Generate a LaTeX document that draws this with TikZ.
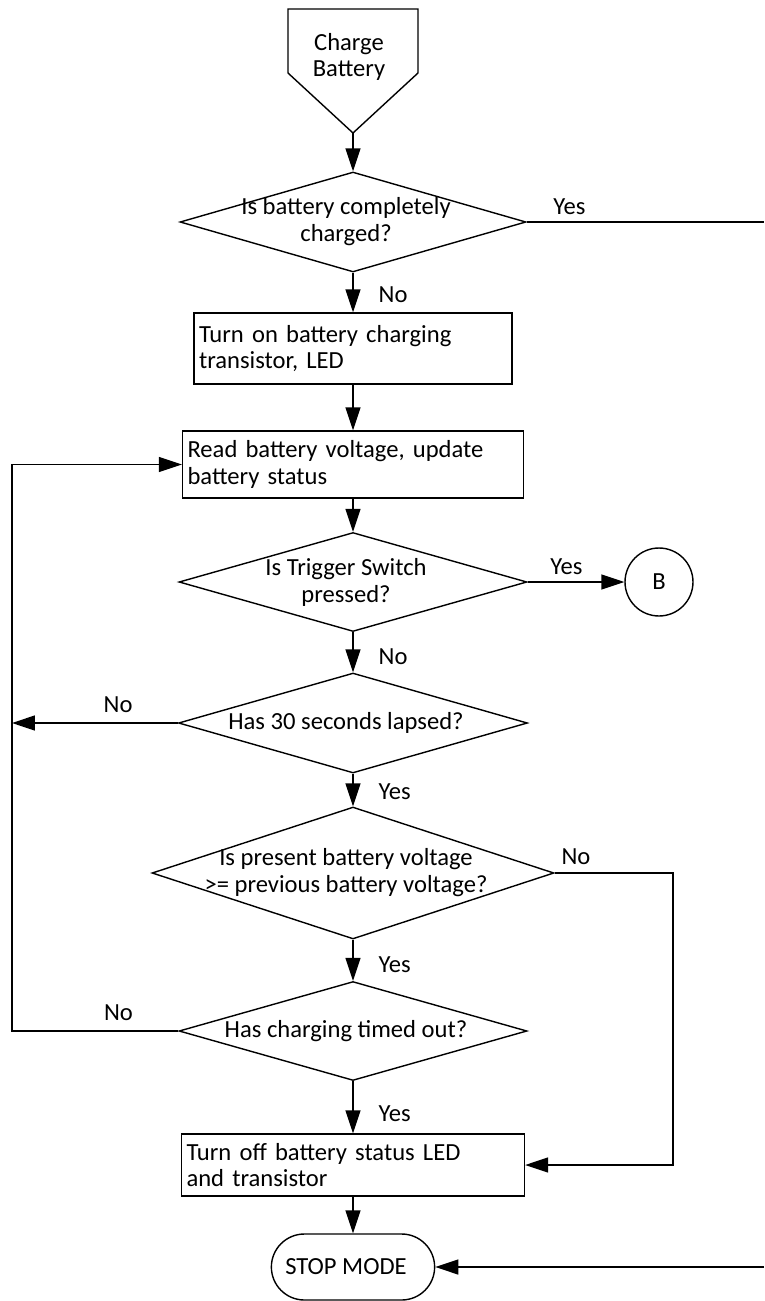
\documentclass[tikz,border=0pt]{standalone}
\usepackage{fontspec}
\setmainfont{Carlito}
\usepackage{tikz}
\usetikzlibrary{arrows.meta,shapes.geometric,shapes.misc}

\begin{document}
\begin{tikzpicture}[x=0.02cm,y=-0.02cm,line width=0.8pt,
    font=\fontsize{14}{15.3}\selectfont,
    flow/.style={-{Triangle[length=0.46cm,width=0.3cm]}},
    decision/.style={draw,shape=diamond,inner sep=0pt},
    dtext/.style={align=center,inner sep=0pt,xshift=-0.14cm},
    process/.style={draw,rectangle,align=left,inner xsep=0.1cm,inner ysep=0pt},
    lbl/.style={inner sep=0pt},
    downlbl/.style={lbl,right,xshift=0.5cm}]
  \useasboundingbox (0,0) rectangle (764,1301);
  \coordinate (lbus) at (12,0);
  \coordinate (rbus) at (673,0);
  \coordinate (rim) at (764,0);

  \draw (288,9) -- (418,9) -- (418,73) -- (353,133) -- (288,73) -- cycle;
  \node[align=center,inner sep=0pt] (start) at (349,57) {Charge\\Battery};
  \coordinate (startpt) at (353,133);

  \node[decision,minimum width=6.92cm,minimum height=2cm] (chk) at (353,222) {};
  \node[dtext] (chkt) at (chk) {Is battery completely\\charged?};
  \node[process,text width=6.16cm,minimum height=1.42cm] (on) at (353,348.5)
    {Turn on battery charging\\transistor, LED};
  \node[process,text width=6.62cm,minimum height=1.34cm] (read) at (353,464.5)
    {Read battery voltage, update\\battery status};
  \node[decision,minimum width=6.96cm,minimum height=1.98cm] (trig) at (353,582) {};
  \node[dtext] (trigt) at (trig) {Is Trigger Switch\\pressed?};
  \node[draw,circle,minimum size=1.36cm,inner sep=0pt] (b) at (659,582) {B};
  \node[decision,minimum width=6.98cm,minimum height=2cm] (lapse) at (353,723) {};
  \node[dtext] (lapset) at (lapse) {Has 30 seconds lapsed?};
  \node[decision,minimum width=8.04cm,minimum height=2.64cm] (pres) at (353,873) {};
  \node[dtext] (prest) at (pres) {Is present battery voltage\\>= previous battery voltage?};
  \node[decision,minimum width=6.96cm,minimum height=1.98cm] (tmo) at (353,1031) {};
  \node[dtext] (tmot) at (tmo) {Has charging timed out?};
  \node[process,text width=6.66cm,minimum height=1.24cm] (off) at (353,1165)
    {Turn off battery status LED\\and transistor};
  \node[draw,rounded rectangle,minimum width=3.5cm,minimum height=1.32cm] (stop)
    at (353,1267) {\hspace*{-0.28cm}STOP MODE};

  \draw[flow] (startpt) -- (chk.north);
  \draw (chk.east) -- (chk.east -| rim) node[lbl,above=0.14cm,pos=0.18] (yes1) {Yes};
  \draw[flow] (chk.south) -- (on.north) node[downlbl,pos=0.55] (no1) {No};
  \draw[flow] (on.south) -- (read.north);
  \draw[flow] (read.south) -- (trig.north);
  \draw[flow] (trig.east) -- (b.west) node[lbl,above=0.14cm,pos=0.4] (yes2) {Yes};
  \draw[flow] (trig.south) -- (lapse.north) node[downlbl,pos=0.6] (no2) {No};
  \draw[flow] (lapse.west) -- (lapse.west -| lbus) node[lbl,above=0.2cm,pos=0.36] (no3) {No};
  \draw[flow] (lapse.south) -- (pres.north) node[downlbl,pos=0.55] (yes3) {Yes};
  \draw[flow] (pres.east) -| node[lbl,above=0.16cm,pos=0.09] (no4) {No}
    (rbus |- off.east) -- (off.east);
  \draw[flow] (pres.south) -- (tmo.north) node[downlbl,pos=0.6] (yes4) {Yes};
  \draw[flow] (tmo.west) -| node[lbl,above=0.2cm,pos=0.18] (no5) {No}
    (lbus |- read.west) -- (read.west);
  \draw[flow] (tmo.south) -- (off.north) node[downlbl,pos=0.62] (yes5) {Yes};
  \draw[flow] (off.south) -- (stop.north);
  \draw[flow] (rim |- stop.east) -- (stop.east);
\end{tikzpicture}
\end{document}
